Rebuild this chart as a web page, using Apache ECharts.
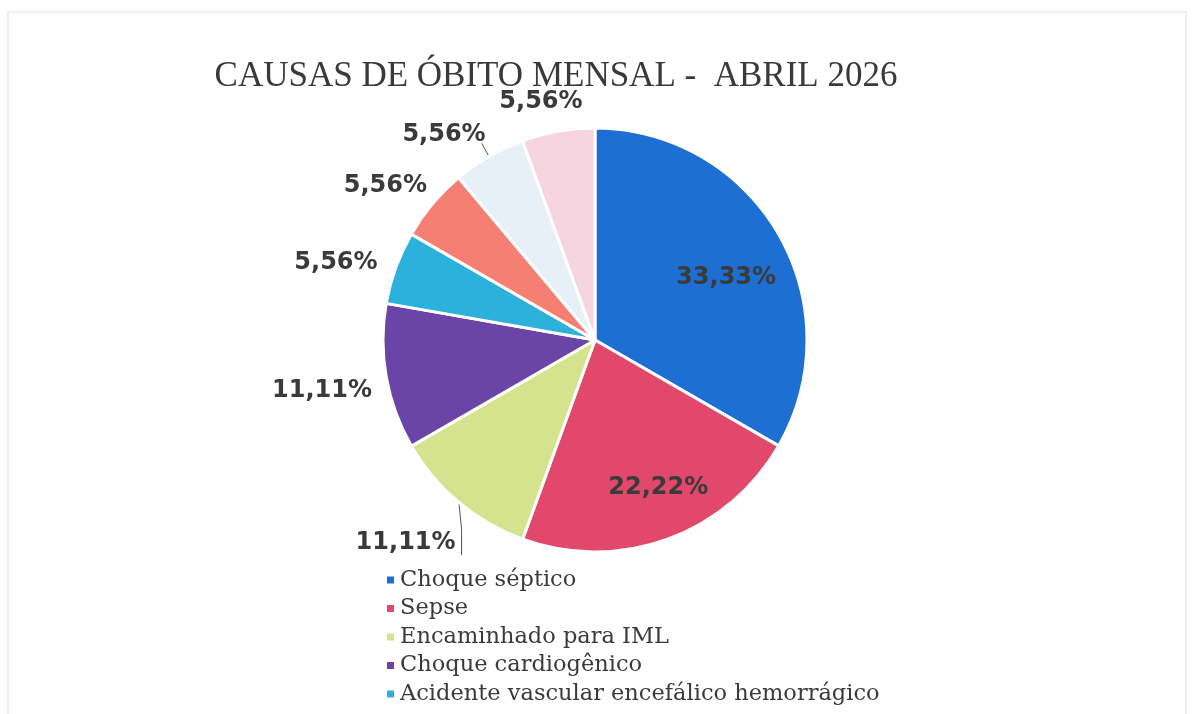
<!DOCTYPE html>
<html>
<head>
<meta charset="utf-8">
<style>
  html, body { margin: 0; padding: 0; background: #ffffff; }
  #chart { width: 1193px; height: 714px; }
</style>
<script src="https://cdn.jsdelivr.net/npm/echarts@6/dist/echarts.min.js"></script>
</head>
<body>
<div id="chart"></div>
<script>
// Causes of death for the month, as share of the total (%)
const causes = [
  'Choque séptico',
  'Sepse',
  'Encaminhado para IML',
  'Choque cardiogênico',
  'Acidente vascular encefálico hemorrágico',
  'Causa 6',
  'Causa 7',
  'Causa 8'
];
const shares = [33.33, 22.22, 11.11, 11.11, 5.56, 5.56, 5.56, 5.56];
const sliceColors = ['#1d6fd3', '#e2486b', '#d5e28e', '#6b44a7', '#2cb1dd', '#f57f72', '#e6f0f6', '#f6d4e0'];
const legendNames = causes.slice(0, 5);
const titleText = 'CAUSAS DE ÓBITO MENSAL -  ABRIL 2026';

// Pie geometry
const CX = 595, CY = 340, R = 212;
// Label placement: [angle in degrees clockwise from 12 o'clock, distance as multiple of R]
const labelPolar = [[64.7, 0.684], [156.9, 0.76], [223, 1.31], [259.4, 1.31], [286.6, 1.275], [306.3, 1.227], [323.6, 1.2], [347.2, 1.15]];
const withLeader = [false, false, true, false, false, false, true, false];

const total = shares.reduce((a, b) => a + b, 0);
const midAngles = [];
{
  let acc = 0;
  shares.forEach(v => { midAngles.push((acc + v / 2) / total * 2 * Math.PI); acc += v; });
}
const polar = (a, r) => [CX + r * Math.sin(a), CY - r * Math.cos(a)];
const fmt = v => v.toFixed(2).replace('.', ',') + '%';

const chart = echarts.init(document.getElementById('chart'), null, { renderer: 'canvas' });
chart.setOption({
  backgroundColor: '#ffffff',
  animation: false,
  title: {
    text: titleText,
    left: 551,
    top: 54,
    textAlign: 'center',
    textStyle: {
      fontFamily: 'Liberation Serif',
      fontWeight: 'normal',
      fontSize: 35,
      color: '#3a3a3a'
    }
  },
  legend: {
    data: legendNames,
    orient: 'vertical',
    left: 385,
    top: 568,
    padding: 0,
    itemWidth: 9,
    itemHeight: 9,
    itemGap: 4.5,
    icon: 'rect',
    textStyle: {
      fontFamily: 'DejaVu Serif',
      fontSize: 22.5,
      lineHeight: 24,
      color: '#3a3a3a'
    }
  },
  graphic: [{
    type: 'rect',
    shape: { x: 8, y: 12, width: 1178, height: 720 },
    style: { fill: 'none', stroke: '#ececec', lineWidth: 1.5 },
    silent: true
  }],
  series: [{
    type: 'pie',
    center: [CX, CY],
    radius: [0, R],
    startAngle: 90,
    clockwise: true,
    avoidLabelOverlap: false,
    data: causes.map((name, i) => ({
      name,
      value: shares[i],
      itemStyle: { color: sliceColors[i] },
      labelLine: { show: withLeader[i] }
    })),
    itemStyle: { borderColor: '#ffffff', borderWidth: 3 },
    label: {
      show: true,
      formatter: p => fmt(p.value),
      fontFamily: 'DejaVu Sans',
      fontWeight: 'bold',
      fontSize: 24,
      color: '#3a3a3a'
    },
    labelLine: {
      lineStyle: { color: '#555555', width: 1 }
    },
    labelLayout: params => {
      const i = params.dataIndex;
      const [deg, k] = labelPolar[i];
      const [x, y] = polar(deg * Math.PI / 180, k * R);
      const out = { x, y, align: 'center', verticalAlign: 'middle' };
      if (withLeader[i]) {
        // leader runs from the slice's outer edge to the end of its label
        const p0 = polar(midAngles[i], R);
        const hw = params.labelRect.width / 2, hh = params.labelRect.height / 2;
        if (i === 2) {
          const p2 = [x + hw + 6, y + hh];
          out.labelLinePoints = [p0, [p2[0], (p0[1] + p2[1]) / 2], p2];
        } else {
          const p2 = [x + hw - 4, y + 8];
          out.labelLinePoints = [p0, [(p0[0] + p2[0]) / 2, (p0[1] + p2[1]) / 2], p2];
        }
      }
      return out;
    }
  }]
});
</script>
</body>
</html>
